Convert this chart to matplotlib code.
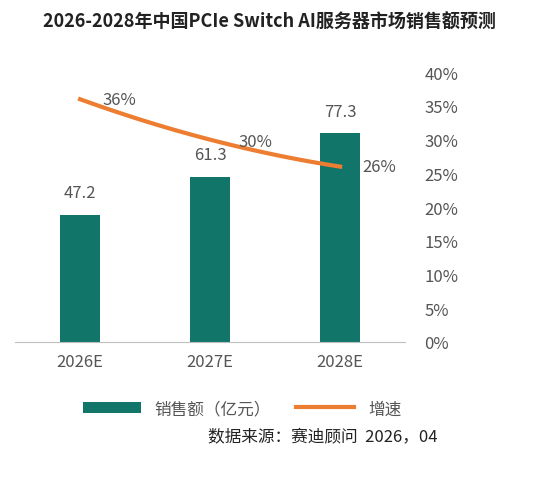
import matplotlib.pyplot as plt
import numpy as np

plt.rcParams["font.family"] = ["Noto Sans CJK SC", "DejaVu Sans"]

# Data
years = ["2026E", "2027E", "2028E"]
sales = [47.2, 61.3, 77.3]
growth = [36, 30, 26]

BAR_COLOR = "#11756a"
LINE_COLOR = "#ed7d31"
TEXT_COLOR = "#555555"

fig = plt.figure(figsize=(5.38, 4.85), dpi=100)
ax = fig.add_axes([0.028, 0.293, 0.725, 0.556])
x = np.arange(len(years))

ax.bar(x, sales, width=0.31, color=BAR_COLOR, label="销售额（亿元）", zorder=2)
for xi, v in zip(x, sales):
    ax.text(xi, v + 5, f"{v}", ha="center", va="bottom", fontsize=12, color=TEXT_COLOR)
ax.set_ylim(0, 100)
ax.set_xlim(-0.5, 2.5)
ax.set_yticks([])
ax.set_xticks(x, labels=years)
ax.tick_params(axis="x", length=0, labelsize=12, labelcolor=TEXT_COLOR, pad=8)
for s in ["top", "left", "right"]:
    ax.spines[s].set_visible(False)
ax.spines["bottom"].set_color("#bfbfbf")

# smoothed line through the three points (quadratic curve, like Excel smoothing)
ax2 = ax.twinx()
coef = np.polyfit(x, growth, 2)
xs = np.linspace(x[0], x[-1], 100)
ax2.plot(xs, np.polyval(coef, xs), color=LINE_COLOR, linewidth=3, label="增速", zorder=3)
offsets = [(0.3, 0), (0.35, -0.3), (0.3, 0)]
for xi, g, (dx, dy) in zip(x, growth, offsets):
    ax2.text(xi + dx, g + dy, f"{g}%", ha="center", va="center", fontsize=12, color=TEXT_COLOR)
ax2.set_ylim(0, 40)
ax2.set_yticks(range(0, 41, 5), labels=[f"{t}%" for t in range(0, 41, 5)])
ax2.tick_params(axis="y", length=0, labelsize=12, labelcolor=TEXT_COLOR, pad=14)
for s in ["top", "left", "right", "bottom"]:
    ax2.spines[s].set_visible(False)

h1, l1 = ax.get_legend_handles_labels()
h2, l2 = ax2.get_legend_handles_labels()
fig.legend(h1 + h2, l1 + l2, loc="center", bbox_to_anchor=(0.45, 0.155), ncol=2,
           frameon=False, fontsize=12, labelcolor=TEXT_COLOR, handlelength=3.5, columnspacing=1.5)

fig.text(0.5, 0.955, "2026-2028年中国PCIe Switch AI服务器市场销售额预测", ha="center", va="center",
         fontsize=13, fontweight="bold", color="#222222")
fig.text(0.6, 0.1, "数据来源：赛迪顾问  2026，04", ha="center", va="center", fontsize=12, color="#222222")

fig.savefig("out.png", dpi=100)
